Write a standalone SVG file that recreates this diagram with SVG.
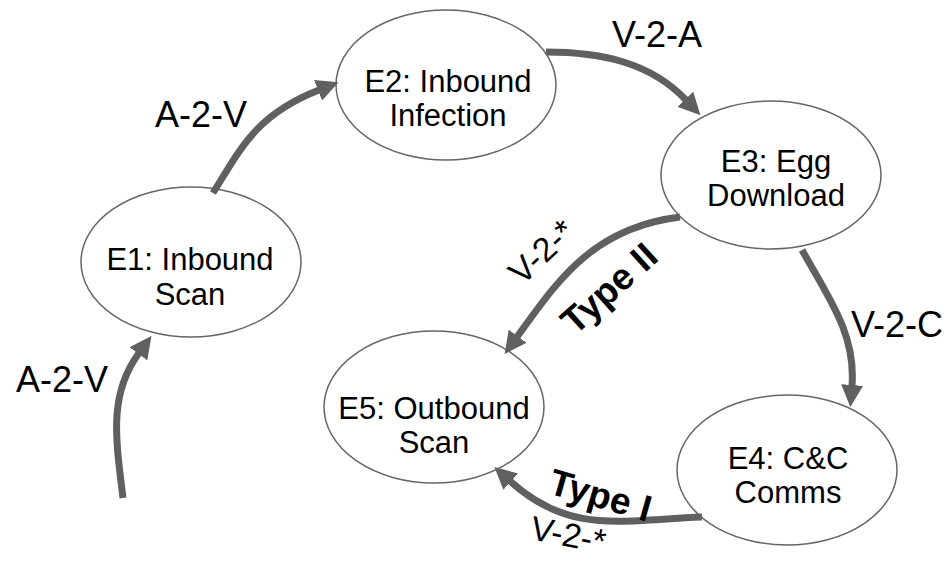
<svg xmlns="http://www.w3.org/2000/svg" width="950" height="564" viewBox="0 0 950 564">
<style>
.node ellipse{fill:#fff;stroke:#666;stroke-width:1.5}
.node text{font-family:"Liberation Sans",Arial,sans-serif;font-size:31px;fill:#000;text-anchor:middle}
.edge{fill:none;stroke:#606060;stroke-width:7;marker-end:url(#ah)}
.lbl{font-family:"Liberation Sans",Arial,sans-serif;font-size:36px;fill:#000}
.rl{font-family:"Liberation Sans",Arial,sans-serif;font-size:34px;fill:#000}
.bl{font-family:"Liberation Sans",Arial,sans-serif;font-size:37px;font-weight:bold;fill:#000}
</style>
<defs>
<marker id="ah" markerUnits="userSpaceOnUse" markerWidth="22" markerHeight="22" viewBox="0 0 22 22" refX="1" refY="11" orient="auto">
<path d="M0,0 L22,11 L0,22 z" fill="#606060"/>
</marker>
</defs>
<g id="E1" class="node"><ellipse cx="191" cy="262" rx="110" ry="75"/><text x="190" y="270">E1: Inbound</text><text x="190" y="305">Scan</text></g>
<g id="E2" class="node"><ellipse cx="446" cy="85" rx="110" ry="75"/><text x="448" y="92">E2: Inbound</text><text x="448" y="126">Infection</text></g>
<g id="E3" class="node"><ellipse cx="771" cy="175" rx="110" ry="74"/><text x="776" y="172">E3: Egg</text><text x="776" y="206">Download</text></g>
<g id="E4" class="node"><ellipse cx="787" cy="470" rx="110" ry="75"/><text x="788" y="469">E4: C&amp;C</text><text x="788" y="503">Comms</text></g>
<g id="E5" class="node"><ellipse cx="434" cy="407" rx="110" ry="76"/><text x="434" y="419">E5: Outbound</text><text x="434" y="453">Scan</text></g>
<g id="connectors">
<path class="edge" d="M123,498 C116,440 108,395 139,353"/>
<path class="edge" d="M213,193 C240,150 255,115 319,90"/>
<path class="edge" d="M546,52 C600,52 650,62 686,100"/>
<path class="edge" d="M802,250 C830,300 856,335 852,386"/>
<path class="edge" d="M680,217 C590,228 555,285 517,337"/>
<path class="edge" d="M702,517 C620,520 570,535 510,481"/>
<text class="lbl" x="16" y="392">A-2-V</text>
<text class="lbl" x="155" y="127">A-2-V</text>
<text class="lbl" x="612" y="47">V-2-A</text>
<text class="lbl" x="851" y="337">V-2-C</text>
<text class="rl" transform="translate(522,286) rotate(-43)">V-2-*</text>
<text class="bl" transform="translate(575,336) rotate(-42)">Type II</text>
<text class="bl" transform="translate(547,493) rotate(16)">Type I</text>
<text class="rl" transform="translate(529,539) rotate(11)">V-2-*</text>
</g>
</svg>
